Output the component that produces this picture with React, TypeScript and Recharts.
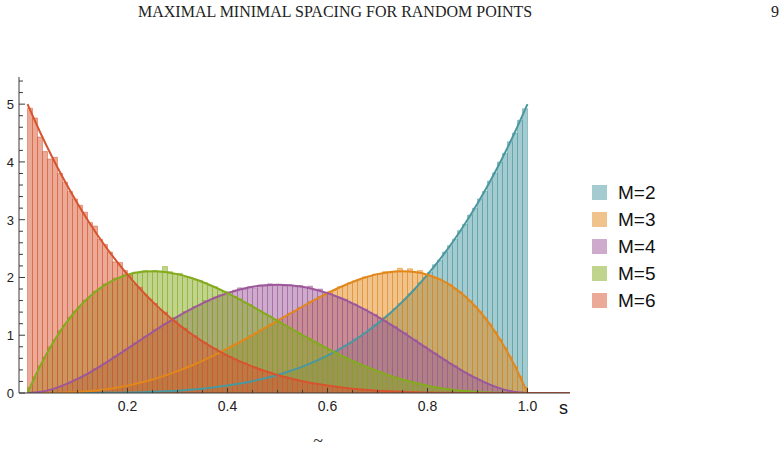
import { ComposedChart, Bar, Line, XAxis, YAxis } from "recharts";

// histogram bins: 100 bins of width 0.01 on [0, 1]
const BIN_COUNT = 100;
const BIN_WIDTH = 0.01;
const BIN_CENTERS = Array.from({ length: BIN_COUNT }, (_, i) =>
  Number((BIN_WIDTH / 2 + i * BIN_WIDTH).toFixed(3))
);

const HIST_M2 = [
  0, 0, 0, 0, 0, 0, 0, 0, 0, 0,
  0, 0, 0, 0, 0.001, 0.002, 0.003, 0.004, 0.006, 0.007,
  0.009, 0.011, 0.013, 0.015, 0.018, 0.021, 0.025, 0.029, 0.033, 0.038,
  0.04, 0.05, 0.06, 0.06, 0.07, 0.08, 0.09, 0.1, 0.11, 0.12,
  0.14, 0.15, 0.16, 0.18, 0.19, 0.22, 0.23, 0.26, 0.28, 0.3,
  0.33, 0.35, 0.38, 0.41, 0.44, 0.48, 0.51, 0.54, 0.59, 0.62,
  0.67, 0.72, 0.76, 0.82, 0.86, 0.93, 0.97, 1.04, 1.1, 1.18,
  1.23, 1.31, 1.37, 1.46, 1.55, 1.62, 1.72, 1.79, 1.91, 2.0,
  2.09, 2.22, 2.3, 2.44, 2.55, 2.66, 2.81, 2.92, 3.08, 3.2,
  3.36, 3.49, 3.67, 3.81, 4.0, 4.15, 4.35, 4.5, 4.72, 4.92,
];

const HIST_M3 = [
  0, 0, 0, 0.001, 0.002, 0.003, 0.005, 0.008, 0.011, 0.016,
  0.02, 0.03, 0.03, 0.04, 0.05, 0.06, 0.08, 0.09, 0.1, 0.12,
  0.14, 0.15, 0.18, 0.2, 0.22, 0.25, 0.27, 0.3, 0.34, 0.36,
  0.39, 0.43, 0.47, 0.49, 0.54, 0.58, 0.61, 0.66, 0.71, 0.74,
  0.79, 0.84, 0.88, 0.92, 0.99, 1.02, 1.08, 1.12, 1.18, 1.22,
  1.28, 1.32, 1.38, 1.42, 1.48, 1.51, 1.58, 1.61, 1.67, 1.7,
  1.76, 1.78, 1.84, 1.86, 1.91, 1.94, 1.96, 2.01, 2.02, 2.06,
  2.07, 2.1, 2.08, 2.11, 2.16, 2.1, 2.15, 2.09, 2.12, 2.05,
  2.04, 1.99, 1.97, 1.91, 1.88, 1.8, 1.75, 1.67, 1.6, 1.5,
  1.41, 1.3, 1.19, 1.06, 0.93, 0.78, 0.63, 0.46, 0.29, 0.1,
];

const HIST_M4 = [
  0, 0.01, 0.02, 0.03, 0.06, 0.08, 0.11, 0.15, 0.18, 0.23,
  0.26, 0.32, 0.35, 0.42, 0.45, 0.52, 0.56, 0.64, 0.67, 0.75,
  0.79, 0.87, 0.9, 0.98, 1.01, 1.1, 1.12, 1.2, 1.23, 1.31,
  1.33, 1.41, 1.43, 1.5, 1.52, 1.6, 1.59, 1.66, 1.7, 1.69,
  1.75, 1.78, 1.82, 1.8, 1.84, 1.82, 1.87, 1.85, 1.89, 1.86,
  1.88, 1.85, 1.87, 1.84, 1.86, 1.83, 1.85, 1.78, 1.8, 1.73,
  1.72, 1.67, 1.64, 1.62, 1.56, 1.54, 1.48, 1.45, 1.39, 1.36,
  1.29, 1.25, 1.18, 1.15, 1.07, 1.04, 0.96, 0.92, 0.85, 0.8,
  0.73, 0.69, 0.62, 0.57, 0.51, 0.47, 0.4, 0.36, 0.31, 0.27,
  0.22, 0.18, 0.14, 0.11, 0.08, 0.05, 0.03, 0.02, 0.01, 0,
];

const HIST_M5 = [
  0.1, 0.28, 0.47, 0.62, 0.8, 0.92, 1.08, 1.17, 1.31, 1.42,
  1.49, 1.61, 1.66, 1.76, 1.8, 1.89, 1.91, 1.99, 1.98, 2.05,
  2.04, 2.09, 2.08, 2.12, 2.1, 2.12, 2.11, 2.19, 2.1, 2.06,
  2.07, 2.01, 2.0, 1.96, 1.95, 1.91, 1.86, 1.84, 1.78, 1.76,
  1.69, 1.67, 1.63, 1.56, 1.53, 1.46, 1.43, 1.37, 1.33, 1.27,
  1.23, 1.17, 1.13, 1.07, 1.03, 0.97, 0.94, 0.88, 0.84, 0.79,
  0.74, 0.71, 0.65, 0.62, 0.57, 0.54, 0.5, 0.46, 0.43, 0.39,
  0.37, 0.33, 0.3, 0.27, 0.25, 0.22, 0.2, 0.17, 0.16, 0.14,
  0.12, 0.1, 0.09, 0.07, 0.06, 0.05, 0.04, 0.03, 0.03, 0.02,
  0.02, 0.01, 0.01, 0.005, 0.003, 0.002, 0.001, 0, 0, 0,
];

const HIST_M6 = [
  4.93, 4.76, 4.43, 4.18, 4.05, 4.08, 3.8, 3.65, 3.49, 3.36,
  3.25, 3.13, 2.95, 2.89, 2.66, 2.57, 2.44, 2.27, 2.26, 2.12,
  2.05, 1.88, 1.83, 1.7, 1.62, 1.55, 1.44, 1.4, 1.29, 1.25,
  1.15, 1.12, 1.03, 0.99, 0.91, 0.87, 0.8, 0.77, 0.72, 0.66,
  0.63, 0.59, 0.54, 0.52, 0.47, 0.45, 0.4, 0.38, 0.36, 0.32,
  0.3, 0.28, 0.25, 0.24, 0.21, 0.2, 0.18, 0.16, 0.15, 0.13,
  0.12, 0.11, 0.1, 0.09, 0.08, 0.07, 0.06, 0.06, 0.05, 0.04,
  0.04, 0.03, 0.03, 0.02, 0.02, 0.02, 0.015, 0.013, 0.011, 0.009,
  0.008, 0.006, 0.005, 0.004, 0.003, 0.002, 0.002, 0.001, 0.001, 0.001,
  0, 0, 0, 0, 0, 0, 0, 0, 0, 0,
];

// fitted densities, sampled every 0.025 on [0, 1]
const CURVE_STEP = 0.025;
const CURVE_S = Array.from({ length: 41 }, (_, i) => Number((i * CURVE_STEP).toFixed(3)));

const CURVE_M2 = [
  0, 0, 0, 0.0002, 0.0005, 0.0012, 0.0025, 0.0047, 0.008, 0.0128,
  0.0195, 0.0286, 0.0405, 0.0558, 0.075, 0.0989, 0.128, 0.1631, 0.205, 0.2545,
  0.3125, 0.3798, 0.4575, 0.5466, 0.648, 0.7629, 0.8925, 1.038, 1.2005, 1.3814,
  1.582, 1.8037, 2.048, 2.3162, 2.61, 2.9309, 3.2805, 3.6605, 4.0725, 4.5184,
  5,
];

const CURVE_M3 = [
  0, 0.0003, 0.0024, 0.0078, 0.018, 0.0342, 0.0574, 0.0884, 0.128, 0.1766,
  0.2344, 0.3016, 0.378, 0.4634, 0.5574, 0.6592, 0.768, 0.8828, 1.0024, 1.1253,
  1.25, 1.3747, 1.4974, 1.6159, 1.728, 1.8311, 1.9224, 1.999, 2.058, 2.0959,
  2.1094, 2.0947, 2.048, 1.9653, 1.8424, 1.6748, 1.458, 1.1872, 0.8574, 0.4634,
  0,
];

const CURVE_M4 = [
  0, 0.0178, 0.0677, 0.1444, 0.243, 0.3589, 0.4877, 0.6253, 0.768, 0.9122,
  1.0547, 1.1925, 1.323, 1.4438, 1.5527, 1.6479, 1.728, 1.7916, 1.8377, 1.8656,
  1.875, 1.8656, 1.8377, 1.7916, 1.728, 1.6479, 1.5527, 1.4438, 1.323, 1.1925,
  1.0547, 0.9122, 0.768, 0.6253, 0.4877, 0.3589, 0.243, 0.1444, 0.0677, 0.0178,
  0,
];

const CURVE_M5 = [
  0, 0.4634, 0.8574, 1.1872, 1.458, 1.6748, 1.8424, 1.9653, 2.048, 2.0947,
  2.1094, 2.0959, 2.058, 1.999, 1.9224, 1.8311, 1.728, 1.6159, 1.4974, 1.3747,
  1.25, 1.1253, 1.0024, 0.8828, 0.768, 0.6592, 0.5574, 0.4634, 0.378, 0.3016,
  0.2344, 0.1766, 0.128, 0.0884, 0.0574, 0.0342, 0.018, 0.0078, 0.0024, 0.0003,
  0,
];

const CURVE_M6 = [
  5, 4.5184, 4.0725, 3.6605, 3.2805, 2.9309, 2.61, 2.3162, 2.048, 1.8037,
  1.582, 1.3814, 1.2005, 1.038, 0.8925, 0.7629, 0.648, 0.5466, 0.4575, 0.3798,
  0.3125, 0.2545, 0.205, 0.1631, 0.128, 0.0989, 0.075, 0.0558, 0.0405, 0.0286,
  0.0195, 0.0128, 0.008, 0.0047, 0.0025, 0.0012, 0.0005, 0.0002, 0, 0,
  0,
];

const X_DOMAIN: [number, number] = [-0.017, 1.085];
const Y_DOMAIN: [number, number] = [0, 5.47];

const X_TICKS = [
  0.05, 0.1, 0.15, 0.2, 0.25, 0.3, 0.35, 0.4, 0.45, 0.5,
  0.55, 0.6, 0.65, 0.7, 0.75, 0.8, 0.85, 0.9, 0.95, 1.0,
];
const Y_TICKS = [
  0, 0.2, 0.4, 0.6, 0.8, 1, 1.2, 1.4, 1.6, 1.8, 2, 2.2, 2.4, 2.6,
  2.8, 3, 3.2, 3.4, 3.6, 3.8, 4, 4.2, 4.4, 4.6, 4.8, 5, 5.2, 5.4,
];

const SERIES = [
  { key: "m2", label: "M=2", color: "#4a989f", hist: HIST_M2, curve: CURVE_M2 },
  { key: "m3", label: "M=3", color: "#e2871a", hist: HIST_M3, curve: CURVE_M3 },
  { key: "m4", label: "M=4", color: "#9d5899", hist: HIST_M4, curve: CURVE_M4 },
  { key: "m5", label: "M=5", color: "#84aa1e", hist: HIST_M5, curve: CURVE_M5 },
  { key: "m6", label: "M=6", color: "#d6552f", hist: HIST_M6, curve: CURVE_M6 },
];

const histRows = BIN_CENTERS.map((s, i) => {
  const row: Record<string, number> = { s };
  SERIES.forEach((sr) => {
    row[sr.key] = sr.hist[i];
  });
  return row;
});

const curveRows = (vals: number[], tail: boolean) => {
  const rows = CURVE_S.map((s, i) => ({ s, y: vals[i] }));
  if (tail) rows.push({ s: X_DOMAIN[1], y: 0 });
  return rows;
};

const SANS = "'Liberation Sans', Arial, sans-serif";
const SERIF = "'Liberation Serif', 'Times New Roman', serif";
const AXIS = "#3a3a3a";

const isMultiple = (v: number, step: number) =>
  Math.abs(v / step - Math.round(v / step)) < 1e-6;

const XTick = (props: any) => {
  const { x, y, payload } = props;
  const v = payload.value as number;
  const major = isMultiple(v, 0.2);
  return (
    <g>
      <line x1={x} y1={y} x2={x} y2={y - (major ? 5 : 3)} stroke={AXIS} strokeWidth={1} />
      {major && (
        <text x={x} y={y + 18} textAnchor="middle" fontSize={14} fontFamily={SANS} fill="#222">
          {v.toFixed(1)}
        </text>
      )}
    </g>
  );
};

const YTick = (props: any) => {
  const { x, y, payload } = props;
  const v = payload.value as number;
  const major = isMultiple(v, 1);
  return (
    <g>
      <line x1={x} y1={y} x2={x + (major ? 6 : 4)} y2={y} stroke={AXIS} strokeWidth={1} />
      {major && (
        <text x={x - 5} y={y + 5} textAnchor="end" fontSize={13} fontFamily={SANS} fill="#222">
          {v}
        </text>
      )}
    </g>
  );
};

export default function App() {
  return (
    <div style={{ position: "absolute", left: 0, top: 0, width: 784, height: 452, background: "#fff" }}>
      <ComposedChart
        width={784}
        height={452}
        data={histRows}
        margin={{ top: 77, right: 214, bottom: 0, left: 0 }}
        barCategoryGap={0}
        barGap={0}
      >
        <XAxis
          xAxisId="main"
          type="number"
          dataKey="s"
          domain={X_DOMAIN}
          allowDataOverflow
          ticks={X_TICKS}
          interval={0}
          height={59}
          tickSize={0}
          tickMargin={0}
          tick={<XTick />}
          axisLine={{ stroke: AXIS, strokeWidth: 1 }}
        />
        {SERIES.map((sr) => (
          <XAxis
            key={"ax-" + sr.key}
            xAxisId={sr.key}
            type="number"
            dataKey="s"
            domain={X_DOMAIN}
            allowDataOverflow
            height={0}
            hide
          />
        ))}
        <YAxis
          type="number"
          domain={Y_DOMAIN}
          allowDataOverflow
          ticks={Y_TICKS}
          interval={0}
          width={19}
          tickSize={0}
          tickMargin={0}
          tick={<YTick />}
          axisLine={{ stroke: AXIS, strokeWidth: 1 }}
        />
        {SERIES.map((sr) => (
          <Bar
            key={"bar-" + sr.key}
            xAxisId={sr.key}
            dataKey={sr.key}
            fill={sr.color}
            fillOpacity={0.5}
            stroke={sr.color}
            strokeOpacity={0.6}
            strokeWidth={0.8}
            isAnimationActive={false}
          />
        ))}
        {SERIES.map((sr) => (
          <Line
            key={"line-" + sr.key}
            xAxisId="main"
            data={curveRows(sr.curve, sr.key === "m6")}
            dataKey="y"
            type="monotone"
            stroke={sr.color}
            strokeWidth={2}
            dot={false}
            activeDot={false}
            isAnimationActive={false}
          />
        ))}
      </ComposedChart>
      <svg
        width={784}
        height={452}
        style={{ position: "absolute", left: 0, top: 0, pointerEvents: "none" }}
      >
        <text x={138} y={17} fontSize={16} fontFamily={SERIF} fill="#222">
          MAXIMAL MINIMAL SPACING FOR RANDOM POINTS
        </text>
        <text x={771} y={17} fontSize={16} fontFamily={SERIF} fill="#222">
          9
        </text>
        <text x={559} y={414} fontSize={18} fontFamily={SANS} fill="#111">
          s
        </text>
        <text x={318} y={447} textAnchor="middle" fontSize={18} fontFamily={SERIF} fill="#333">
          ~
        </text>
        {SERIES.map((sr, i) => (
          <g key={"lg-" + sr.key}>
            <rect x={592} y={185 + i * 27} width={15} height={15} fill={sr.color} fillOpacity={0.5} />
            <text x={618} y={199 + i * 27} fontSize={19} fontFamily={SANS} fill="#111">
              {sr.label}
            </text>
          </g>
        ))}
      </svg>
    </div>
  );
}
